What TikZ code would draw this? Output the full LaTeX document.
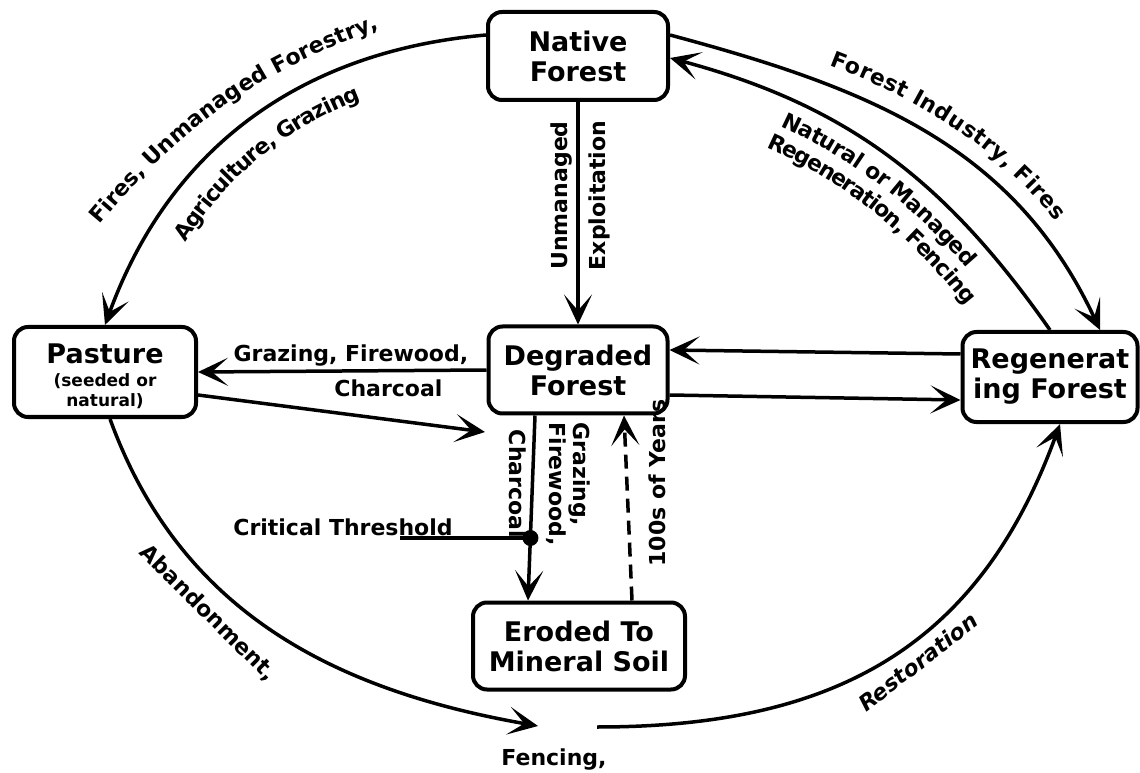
\documentclass[tikz,border=0pt]{standalone}
\usepackage{fontspec}
\setmainfont{DejaVu Sans}
\usetikzlibrary{
    arrows.meta,
    positioning,
    calc,
    decorations.text
}
\definecolor{bgWhite}{RGB}{255, 255, 255}
\definecolor{inkBlack}{RGB}{0, 0, 0}
\newcommand{\boxFont}{\bfseries\fontsize{27}{30}\selectfont}
\newcommand{\labelFont}{\bfseries\fontsize{22}{24}\selectfont}
\newcommand{\noteFont}{\bfseries\fontsize{17}{20}\selectfont}
\tikzset{
    stateBox/.style={
        rectangle,
        rounded corners=14pt,
        draw=inkBlack,
        line width=4pt,
        fill=bgWhite,
        align=center,
        inner sep=2pt,
        font=\boxFont
    },
    flow/.style={
        draw=inkBlack,
        line width=3.5pt,
        -{Stealth[length=30pt, width=28pt, inset=16pt]}
    },
    plainLine/.style={
        draw=inkBlack,
        line width=3.5pt
    },
    edgeText/.style={
        font=\labelFont,
        text=inkBlack,
        inner sep=1pt
    }
}

\begin{document}
\begin{tikzpicture}[x=1pt, y=1pt]
    \useasboundingbox (0,0) rectangle (1140,772);
    \fill[bgWhite] (0,0) rectangle (1140,772);

    % States
    \node[stateBox, minimum width=180pt, minimum height=88pt] (native) at (578,716) {Native\\Forest};
    \node[stateBox, minimum width=182pt, minimum height=90pt] (pasture) at (105,400) {\rule{0pt}{33pt}Pasture\\[-7pt]{\noteFont\begin{tabular}[t]{@{}c@{}}(seeded or\\natural)\end{tabular}}};
    \node[stateBox, minimum width=179pt, minimum height=87pt] (degraded) at (578,402) {Degraded\\Forest};
    \node[stateBox, minimum width=175pt, minimum height=90pt] (regen) at (1050,395) {Regenerat\\ing Forest};
    \node[stateBox, minimum width=212pt, minimum height=87pt] (eroded) at (579,126) {Eroded To\\Mineral Soil};

    % Free ends
    \coordinate (thrTip) at (485,340);
    \coordinate (critStart) at (400,234);
    \coordinate (fenceTip) at (538,46);
    \coordinate (restStart) at (597,45);
    \coordinate (firesFrom) at (87,532);
    \coordinate (firesTo) at (398,750);

    % Outer loop, top
    \draw[flow] ([yshift=21pt]native.west) to[out=185, in=70] (pasture.north);
    \path[decorate, decoration={text along path, text align=center,
        text={|\labelFont|Fires, Unmanaged Forestry,}}]
        (firesFrom) to[bend left=16] (firesTo);
    \path[decorate, decoration={text along path, raise=-36pt, text align={left indent=115pt},
        text={|\labelFont|Agriculture, Grazing}}]
        (pasture.north) to[out=70, in=185] ([yshift=21pt]native.west);

    \draw[flow] ([yshift=21pt]native.east) to[out=-15, in=115] ([xshift=50pt]regen.north);
    \path[decorate, decoration={text along path, raise=19pt, text align={left indent=160pt},
        text={|\labelFont|Forest Industry, Fires}}]
        ([yshift=21pt]native.east) to[out=-15, in=115] ([xshift=50pt]regen.north);

    \draw[flow] (regen.north) to[out=125, in=-15] ([yshift=-2pt]native.east);
    \path[decorate, decoration={text along path, raise=-28pt, text align={left indent=130pt},
        text={|\labelFont|Natural or Managed}}]
        ([yshift=-2pt]native.east) to[out=-15, in=125] (regen.north);
    \path[decorate, decoration={text along path, raise=-53pt, text align={left indent=126pt},
        text={|\labelFont|Regeneration, Fencing}}]
        ([yshift=-2pt]native.east) to[out=-15, in=125] (regen.north);

    % Spokes
    \draw[flow] (native) -- node[edgeText, xshift=-3pt, rotate=90, anchor=south, pos=.42] {Unmanaged}
        node[edgeText, xshift=8pt, rotate=90, anchor=north, pos=.42] {Exploitation} (degraded);
    \draw[flow] (degraded.west) -- node[edgeText, above=2pt, pos=.47] {Grazing, Firewood,}
        node[edgeText, below=6pt, pos=.34] {Charcoal} (pasture.east);
    \draw[flow] ([yshift=-23pt]pasture.east) -- (thrTip);
    \draw[flow] ([xshift=-43pt]degraded.south) -- coordinate[pos=.65] (cdot)
        node[edgeText, xshift=11pt, rotate=-90, anchor=south, pos=.37, align=left] {Grazing,\\Firewood,}
        node[edgeText, xshift=-3pt, rotate=-90, anchor=north, pos=.37] {Charcoal} ([xshift=-51pt]eroded.north);

    % Critical threshold
    \node[edgeText] (critLbl) at (343,245) {Critical Threshold};
    \draw[plainLine] (critStart) -- (critStart -| cdot);
    \fill[inkBlack] (critStart -| cdot) circle (8pt);

    % Slow recovery
    \draw[flow, dash pattern=on 14pt off 8pt] ([xshift=53pt]eroded.north) --
        node[edgeText, xshift=19pt, rotate=90, anchor=north, pos=.635] {100s of Years} ([xshift=46pt]degraded.south);

    % Degraded <-> Regenerating
    \draw[flow] ([yshift=-25pt]degraded.east) -- ([yshift=-23pt]regen.west);
    \draw[flow] ([yshift=23pt]regen.west) -- ([yshift=20pt]degraded.east);

    % Outer loop, bottom
    \draw[flow] ([xshift=5pt]pasture.south) to[out=-70, in=170] (fenceTip);
    \node[edgeText, rotate=-45] (abandonLbl) at (208,159) {Abandonment,};
    \node[edgeText] (fenceLbl) at (554,12) {Fencing,};
    \draw[flow] (restStart) to[out=0, in=-110, looseness=1.1] ([xshift=10pt]regen.south);
    \node[edgeText, font=\labelFont\itshape, rotate=38] (restLbl) at (918,110) {Restoration};
\end{tikzpicture}
\end{document}
